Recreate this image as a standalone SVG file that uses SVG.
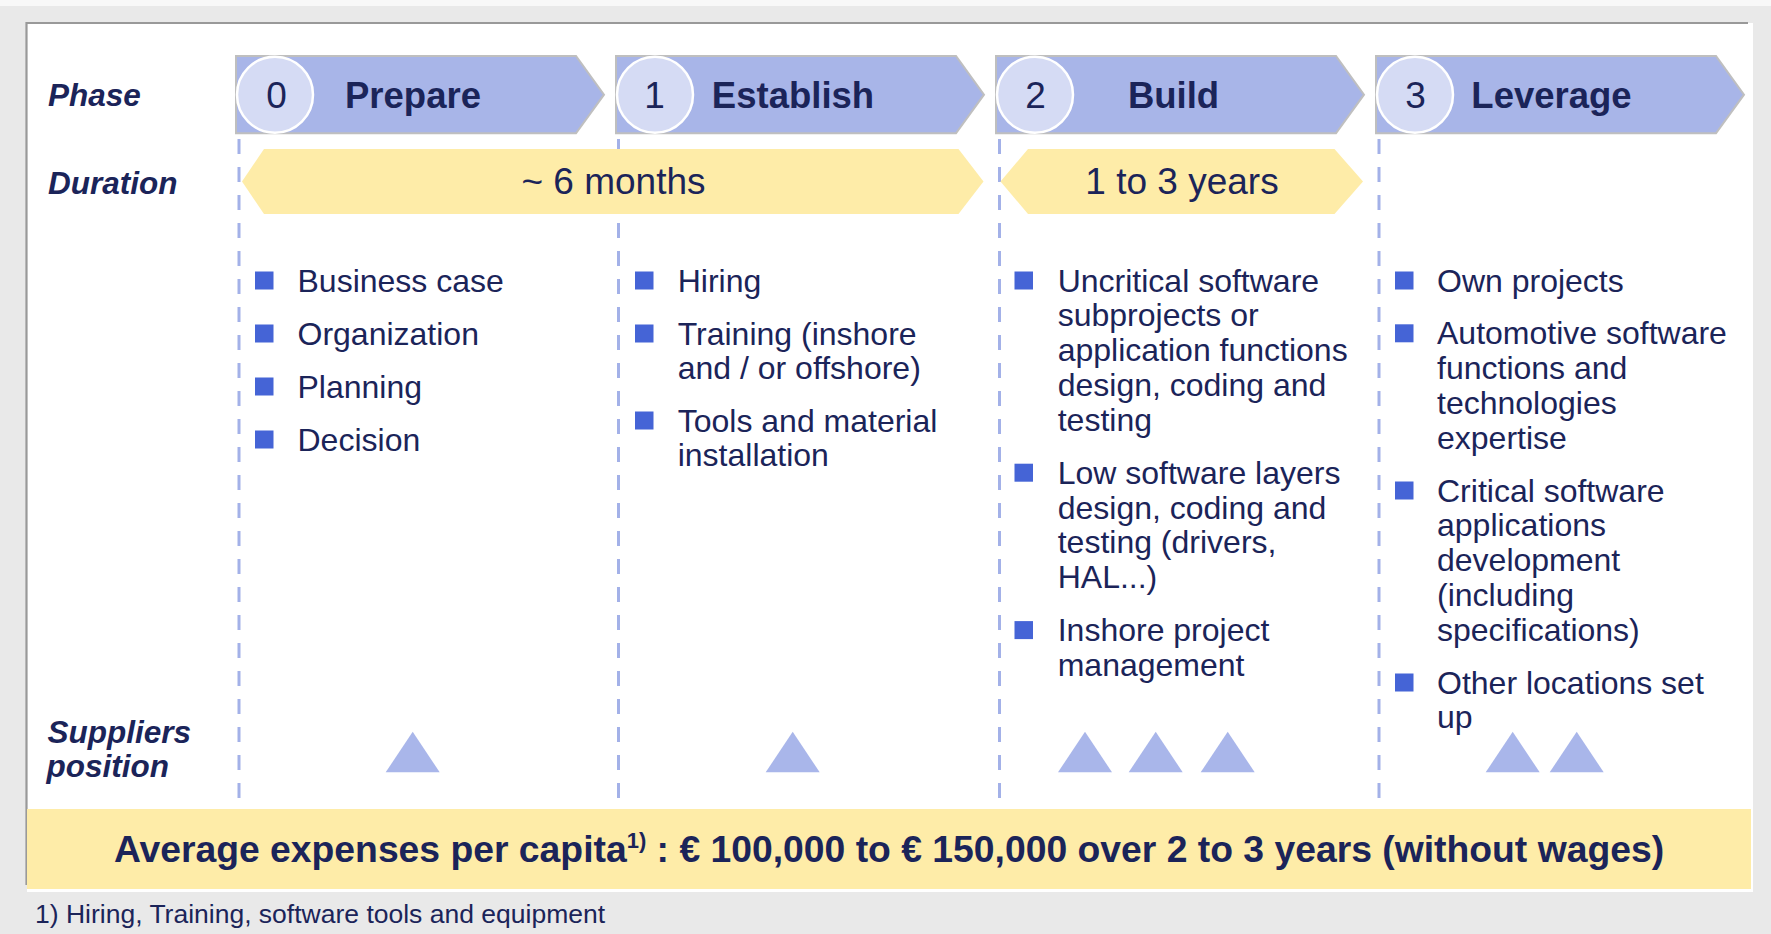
<svg xmlns="http://www.w3.org/2000/svg" xmlns:xlink="http://www.w3.org/1999/xlink" width="1771" height="934" viewBox="0 0 1771 934">
  <style>
    .lbl{font-family:"Liberation Sans",Arial,sans-serif;font-weight:bold;font-style:italic;font-size:31.5px;fill:#1b2459}
    .num{font-family:"Liberation Sans",Arial,sans-serif;font-size:37px;fill:#1b2459;text-anchor:middle}
    .ph{font-family:"Liberation Sans",Arial,sans-serif;font-weight:bold;font-size:36.5px;fill:#1b2459;text-anchor:middle}
    .dur{font-family:"Liberation Sans",Arial,sans-serif;font-size:37px;fill:#1b2459;text-anchor:middle}
    .bt{font-family:"Liberation Sans",Arial,sans-serif;font-size:32px;fill:#1b2459}
    .ban{font-family:"Liberation Sans",Arial,sans-serif;font-weight:bold;font-size:37.3px;fill:#1b2459;text-anchor:middle}
    .fn{font-family:"Liberation Sans",Arial,sans-serif;font-size:26.5px;fill:#1b2459}
    .chev{fill:#a8b5e8;stroke:#bfbfbf;stroke-width:2}
    .circ{fill:#d5dbf4;stroke:#ffffff;stroke-width:2.5}
    .durs{fill:#feeca8}
    .bul{fill:#4564d6}
    .tri{fill:#a9b6ea}
    .div{stroke:#a3b1e8;stroke-width:3;stroke-dasharray:15 13;fill:none}
  </style>
  <defs>
    <path id="chevron" d="M0,0 H340 L368,38.7 L340,77.3 H0 Z"/>
    <path id="triangle" d="M-27,20.3 L0,-20.3 L27,20.3 Z"/>
    <rect id="bullet" x="0" y="0" width="18.5" height="18"/>
  </defs>

  <!-- background -->
  <rect x="0" y="0" width="1771" height="934" fill="#e9e9e9"/>
  <rect x="0" y="0" width="1771" height="6" fill="#f8f8f8"/>
  <rect x="27" y="23" width="1726" height="869" fill="#ffffff"/>
  <path d="M26.5,885 V23 H1748" fill="none" stroke="#999999" stroke-width="2.2"/>

  <!-- row labels -->
  <g id="labels">
    <text class="lbl" x="48" y="106">Phase</text>
    <text class="lbl" x="48" y="193.5">Duration</text>
    <text class="lbl" x="47.5" y="743.3">Suppliers<tspan x="46.5" y="776.7">position</tspan></text>
  </g>

  <!-- dividers -->
  <g id="dividers">
    <line class="div" x1="239" y1="139" x2="239" y2="798"/>
    <line class="div" x1="618.5" y1="139" x2="618.5" y2="798"/>
    <line class="div" x1="999.5" y1="139" x2="999.5" y2="798"/>
    <line class="div" x1="1379" y1="139" x2="1379" y2="798"/>
  </g>

  <!-- phases -->
  <g id="phase0">
    <use xlink:href="#chevron" class="chev" transform="translate(236,56)"/>
    <circle class="circ" cx="275" cy="94.7" r="38"/>
    <text class="num" x="276.5" y="108.3">0</text>
    <text class="ph" x="413" y="108.3">Prepare</text>
  </g>
  <g id="phase1">
    <use xlink:href="#chevron" class="chev" transform="translate(616,56)"/>
    <circle class="circ" cx="655" cy="94.7" r="38"/>
    <text class="num" x="654.5" y="108.3">1</text>
    <text class="ph" x="793" y="108.3">Establish</text>
  </g>
  <g id="phase2">
    <use xlink:href="#chevron" class="chev" transform="translate(996,56)"/>
    <circle class="circ" cx="1035" cy="94.7" r="38"/>
    <text class="num" x="1035.5" y="108.3">2</text>
    <text class="ph" x="1173.5" y="108.3">Build</text>
  </g>
  <g id="phase3">
    <use xlink:href="#chevron" class="chev" transform="translate(1376,56)"/>
    <circle class="circ" cx="1415" cy="94.7" r="38"/>
    <text class="num" x="1415.5" y="108.3">3</text>
    <text class="ph" x="1551.5" y="108.3">Leverage</text>
  </g>

  <!-- durations -->
  <g id="duration1">
    <path class="durs" d="M242,181.5 L264,149 H958.5 L983.5,181.5 L958.5,214 H264 Z"/>
    <text class="dur" x="613.5" y="194">~ 6 months</text>
  </g>
  <g id="duration2">
    <path class="durs" d="M1000.5,181.5 L1028,149 H1334.5 L1363,181.5 L1334.5,214 H1028 Z"/>
    <text class="dur" x="1182" y="194">1 to 3 years</text>
  </g>

  <!-- activity lists -->
  <g id="list0">
    <use xlink:href="#bullet" class="bul" x="255" y="271.5"/>
    <use xlink:href="#bullet" class="bul" x="255" y="324.5"/>
    <use xlink:href="#bullet" class="bul" x="255" y="377.5"/>
    <use xlink:href="#bullet" class="bul" x="255" y="430.5"/>
    <text class="bt" x="297.5" y="291.5">Business case</text>
    <text class="bt" x="297.5" y="344.5">Organization</text>
    <text class="bt" x="297.5" y="397.5">Planning</text>
    <text class="bt" x="297.5" y="450.5">Decision</text>
  </g>
  <g id="list1">
    <use xlink:href="#bullet" class="bul" x="635" y="271.5"/>
    <use xlink:href="#bullet" class="bul" x="635" y="324.5"/>
    <use xlink:href="#bullet" class="bul" x="635" y="411.5"/>
    <text class="bt" x="677.7" y="291.5">Hiring</text>
    <text class="bt" x="677.7" y="344.5">Training (inshore<tspan x="677.7" dy="34.5">and / or offshore)</tspan></text>
    <text class="bt" x="677.7" y="431.5">Tools and material<tspan x="677.7" dy="34.5">installation</tspan></text>
  </g>
  <g id="list2">
    <use xlink:href="#bullet" class="bul" x="1014.5" y="271.5"/>
    <use xlink:href="#bullet" class="bul" x="1014.5" y="463.7"/>
    <use xlink:href="#bullet" class="bul" x="1014.5" y="621.1"/>
    <text class="bt" x="1057.7" y="291.5">Uncritical software<tspan x="1057.7" dy="34.8">subprojects or</tspan><tspan x="1057.7" dy="34.8">application functions</tspan><tspan x="1057.7" dy="34.8">design, coding and</tspan><tspan x="1057.7" dy="34.8">testing</tspan></text>
    <text class="bt" x="1057.7" y="483.7">Low software layers<tspan x="1057.7" dy="34.8">design, coding and</tspan><tspan x="1057.7" dy="34.8">testing (drivers,</tspan><tspan x="1057.7" dy="34.8">HAL...)</tspan></text>
    <text class="bt" x="1057.7" y="641.1">Inshore project<tspan x="1057.7" dy="34.8">management</tspan></text>
  </g>
  <g id="list3">
    <use xlink:href="#bullet" class="bul" x="1395" y="271.5"/>
    <use xlink:href="#bullet" class="bul" x="1395" y="324.3"/>
    <use xlink:href="#bullet" class="bul" x="1395" y="481.5"/>
    <use xlink:href="#bullet" class="bul" x="1395" y="673.5"/>
    <text class="bt" x="1437" y="291.5">Own projects</text>
    <text class="bt" x="1437" y="344.3">Automotive software<tspan x="1437" dy="34.8">functions and</tspan><tspan x="1437" dy="34.8">technologies</tspan><tspan x="1437" dy="34.8">expertise</tspan></text>
    <text class="bt" x="1437" y="501.5">Critical software<tspan x="1437" dy="34.8">applications</tspan><tspan x="1437" dy="34.8">development</tspan><tspan x="1437" dy="34.8">(including</tspan><tspan x="1437" dy="34.8">specifications)</tspan></text>
    <text class="bt" x="1437" y="693.5">Other locations set<tspan x="1437" dy="34.8">up</tspan></text>
  </g>

  <!-- supplier positions -->
  <g id="suppliers">
    <use xlink:href="#triangle" class="tri" x="412.7" y="752"/>
    <use xlink:href="#triangle" class="tri" x="792.7" y="752"/>
    <use xlink:href="#triangle" class="tri" x="1085" y="752"/>
    <use xlink:href="#triangle" class="tri" x="1155.7" y="752"/>
    <use xlink:href="#triangle" class="tri" x="1227.7" y="752"/>
    <use xlink:href="#triangle" class="tri" x="1512.7" y="752"/>
    <use xlink:href="#triangle" class="tri" x="1576.7" y="752"/>
  </g>

  <!-- expenses banner -->
  <g id="banner">
    <rect x="27" y="809" width="1724" height="80" fill="#feeca8"/>
    <text class="ban" x="889" y="861.5">Average expenses per capita<tspan font-size="22" dy="-14">1)</tspan><tspan dy="14"> : € 100,000 to € 150,000 over 2 to 3 years (without wages)</tspan></text>
  </g>

  <!-- footnote -->
  <g id="footnote">
    <text class="fn" x="35" y="923">1) Hiring, Training, software tools and equipment</text>
  </g>
</svg>
